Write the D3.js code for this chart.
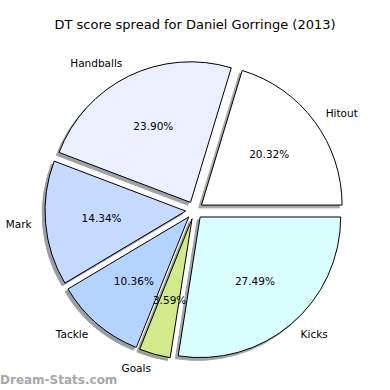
<!DOCTYPE html>
<html>
<head>
<meta charset="utf-8">
<script src="https://cdn.jsdelivr.net/npm/d3@7"></script>
<style>
  body { margin: 0; background: #fff; }
  text { font-family: "DejaVu Sans", sans-serif; }
</style>
</head>
<body>
<div id="chart"></div>
<script>
const labels = ["Hitout", "Handballs", "Mark", "Tackle", "Goals", "Kicks"];
const values = [20.32, 23.90, 14.34, 10.36, 3.59, 27.49];
const colors = ["#ffffff", "#eaf0ff", "#c6d9ff", "#b4d4ff", "#d0ea8c", "#d9ffff"];
const chartTitle = "DT score spread for Daniel Gorringe (2013)";

const width = 390, height = 390;
const cx = 194.4, cy = 210.3, r = 140.6;
const explode = 8.8;

const svg = d3.select("#chart").append("svg")
    .attr("width", width)
    .attr("height", height);

svg.append("text")
    .attr("x", 195)
    .attr("y", 29)
    .attr("text-anchor", "middle")
    .attr("font-size", "13px")
    .text(chartTitle);

// matplotlib style: start at east, counterclockwise
const data = values.map((v, i) => ({ label: labels[i], value: v, color: colors[i] }));
const total = d3.sum(values);
let acc = 0;
data.forEach(d => {
  d.a0 = acc / total * 2 * Math.PI;
  acc += d.value;
  d.a1 = acc / total * 2 * Math.PI;
  d.am = (d.a0 + d.a1) / 2;
});

// d3.arc measures angle clockwise from 12 o'clock; convert
const arc = d3.arc().innerRadius(0).outerRadius(r);
const toD3 = a => Math.PI / 2 - a;

const shadowColor = c => {
  const rgb = d3.rgb(c);
  return d3.rgb(rgb.r * 0.3, rgb.g * 0.3, rgb.b * 0.3).toString();
};

const g = svg.append("g");

data.forEach(d => {
  const ox = cx + explode * Math.cos(d.am);
  const oy = cy - explode * Math.sin(d.am);
  d.ox = ox; d.oy = oy;
  const path = arc({ startAngle: toD3(d.a1), endAngle: toD3(d.a0) });

  g.append("path")
      .attr("d", path)
      .attr("transform", `translate(${ox - 2.8},${oy + 2.8})`)
      .attr("fill", shadowColor(d.color))
      .attr("stroke", shadowColor(d.color))
      .attr("stroke-width", 1)
      .attr("opacity", 0.5);
});

data.forEach(d => {
  const path = arc({ startAngle: toD3(d.a1), endAngle: toD3(d.a0) });
  g.append("path")
      .attr("d", path)
      .attr("transform", `translate(${d.ox},${d.oy})`)
      .attr("fill", d.color)
      .attr("stroke", "#000")
      .attr("stroke-width", 1);
});

data.forEach(d => {
  const lx = d.ox + 1.1 * r * Math.cos(d.am);
  const ly = d.oy - 1.1 * r * Math.sin(d.am);
  svg.append("text")
      .attr("x", lx)
      .attr("y", ly)
      .attr("dy", "0.35em")
      .attr("text-anchor", Math.cos(d.am) > 0 ? "start" : "end")
      .attr("font-size", "10.5px")
      .text(d.label);

  const px = d.ox + 0.6 * r * Math.cos(d.am);
  const py = d.oy - 0.6 * r * Math.sin(d.am);
  svg.append("text")
      .attr("x", px)
      .attr("y", py)
      .attr("dy", "0.35em")
      .attr("text-anchor", "middle")
      .attr("font-size", "10.5px")
      .text(d3.format(".2f")(d.value) + "%");
});

svg.append("text")
    .attr("x", 0)
    .attr("y", 384)
    .attr("font-size", "12px")
    .attr("font-weight", "bold")
    .attr("fill", "#a8a8a8")
    .text("Dream-Stats.com");
</script>
</body>
</html>
